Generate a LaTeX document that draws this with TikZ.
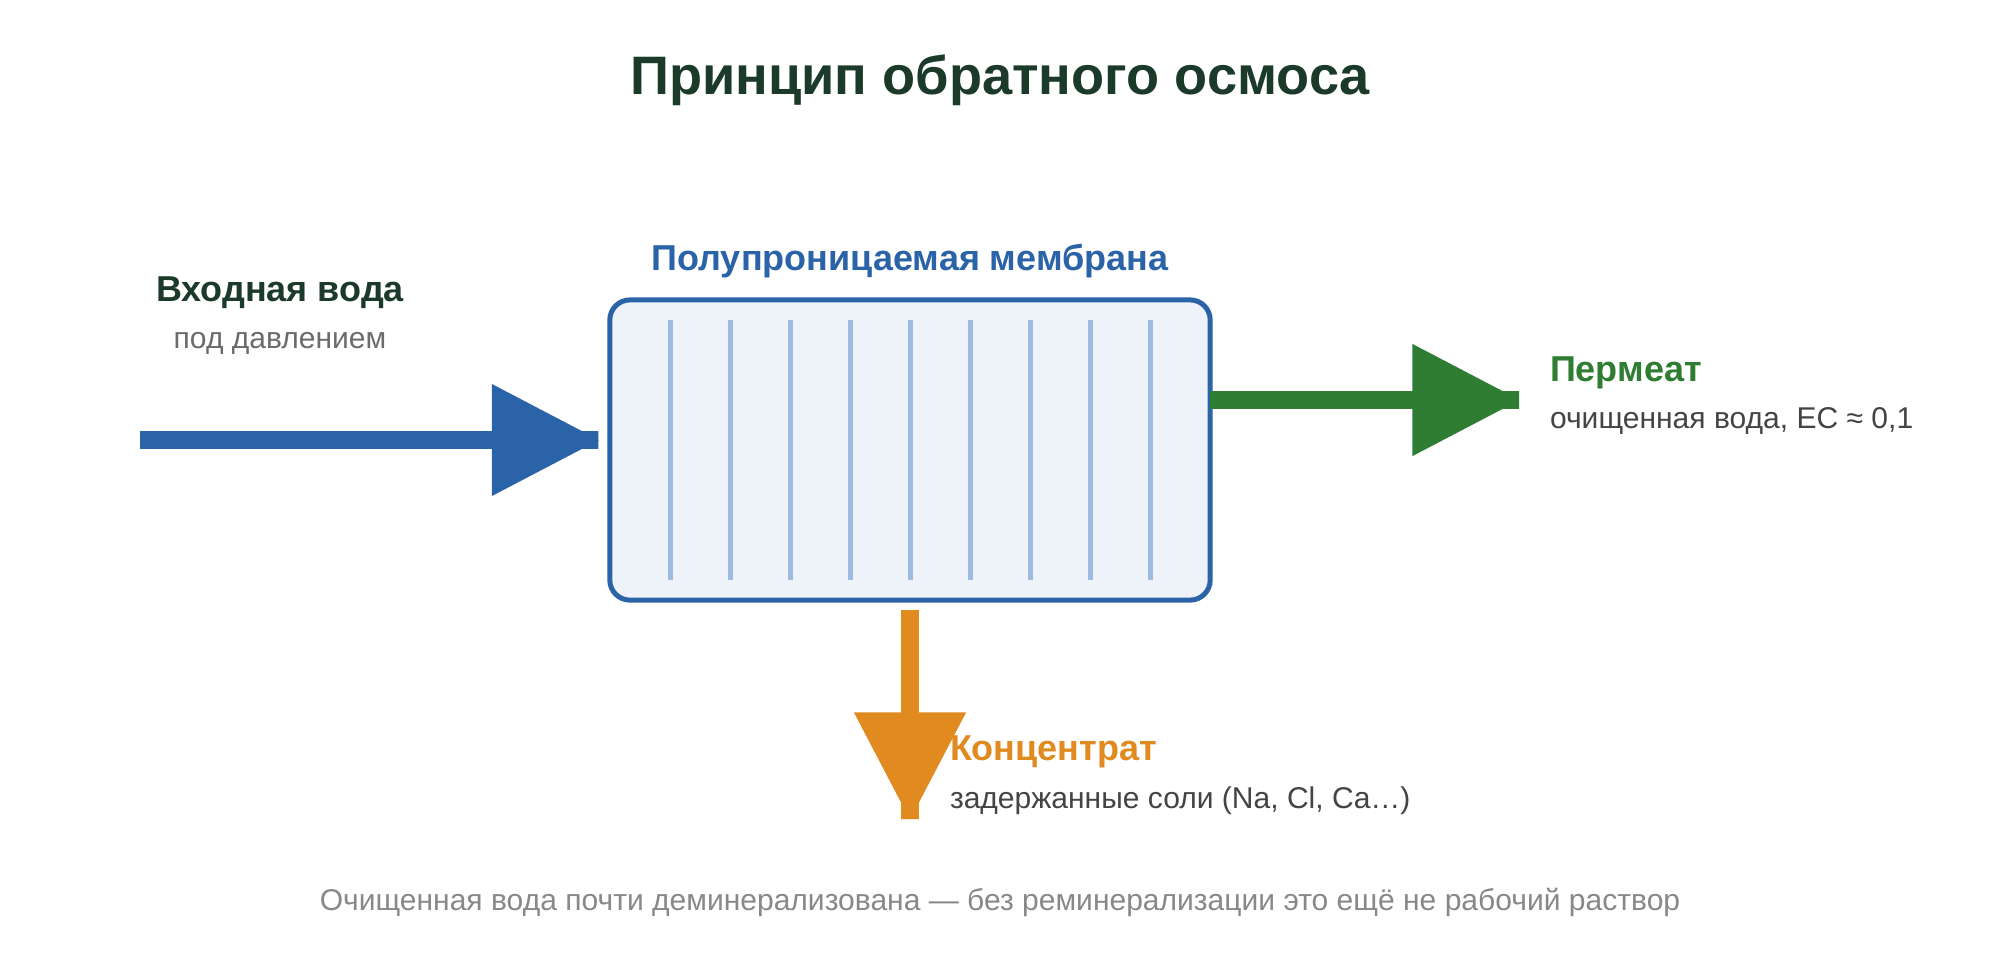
\documentclass[tikz,border=0pt]{standalone}
\usepackage{fontspec}
\setmainfont{Liberation Sans}
\usetikzlibrary{arrows.meta}

\definecolor{titlegreen}{HTML}{1C3A29}
\definecolor{roblue}{HTML}{2B63A8}
\definecolor{rofill}{HTML}{EEF3FA}
\definecolor{porecol}{HTML}{9DBBE0}
\definecolor{permgreen}{HTML}{2E7D32}
\definecolor{concorange}{HTML}{E08A1F}
\definecolor{subgray}{HTML}{6B6B6B}
\definecolor{darkgray}{HTML}{444444}
\definecolor{notegray}{HTML}{888888}

\tikzset{
  lbl/.style={inner sep=0pt, outer sep=0pt, font=\fontsize{10.24}{12}\selectfont\bfseries},
  sublbl/.style={inner sep=0pt, outer sep=0pt, font=\fontsize{8.54}{10}\selectfont},
  flow/.style={line width=0.18cm,
    -{Triangle[length=1.08cm, width=1.07cm, sep=-1.005cm]Rectangle[length=1.08cm, width=0.18cm]}},
  membrane/.style={draw=roblue, fill=rofill, line width=0.05cm, rounded corners=0.2cm,
    minimum width=6cm, minimum height=3cm, inner sep=0pt, outer sep=0pt},
  pore/.style={porecol, line width=0.05cm}
}

\begin{document}
\begin{tikzpicture}[x=0.01cm, y=-0.01cm]
        \useasboundingbox[fill=white] (0,0) rectangle (2000,960);
        %Title
        \node[inner sep=0pt, anchor=base, text=titlegreen,
          font=\fontsize{15.4}{18}\selectfont\bfseries] (title) at (1000,94) {Принцип обратного осмоса};
        %Membrane
        \node[membrane] (box) at (910,450) {};
        \node[lbl, anchor=base, text=roblue] (memlbl) at (910,270) {Полупроницаемая мембрана};
        \foreach \i in {0,1,...,8}
          \draw[pore] ({670+60*\i},320) -- ({670+60*\i},580);
        %Feed water
        \node[lbl, anchor=base, text=titlegreen] (feedlbl) at (280,301) {Входная вода};
        \node[sublbl, anchor=base, text=subgray] (feedsub) at (280,348) {под давлением};
        \coordinate (feedin) at (140,440);
        \draw[flow, roblue, shorten >=0.025cm] (feedin) -- (feedin -| box.west);
        %Permeate
        \coordinate (permout) at (1528,400);
        \draw[flow, permgreen] (permout -| box.east) -- (permout);
        \node[lbl, anchor=base west, text=permgreen] (permlbl) at (1550,381) {Пермеат};
        \node[sublbl, anchor=base west, text=darkgray] (permsub) at (1550,428) {очищенная вода, EC ≈ 0,1};
        %Concentrate
        \coordinate (concout) at (910,828);
        \draw[flow, concorange, shorten <=0.1cm] (box.south) -- (concout);
        \node[lbl, anchor=base west, text=concorange] (conclbl) at (950,760) {Концентрат};
        \node[sublbl, anchor=base west, text=darkgray] (concsub) at (950,808) {задержанные соли (Na, Cl, Ca…)};
        %Note
        \node[sublbl, anchor=base, text=notegray] (note) at (1000,910)
          {Очищенная вода почти деминерализована — без реминерализации это ещё не рабочий раствор};
      \end{tikzpicture}
\end{document}
